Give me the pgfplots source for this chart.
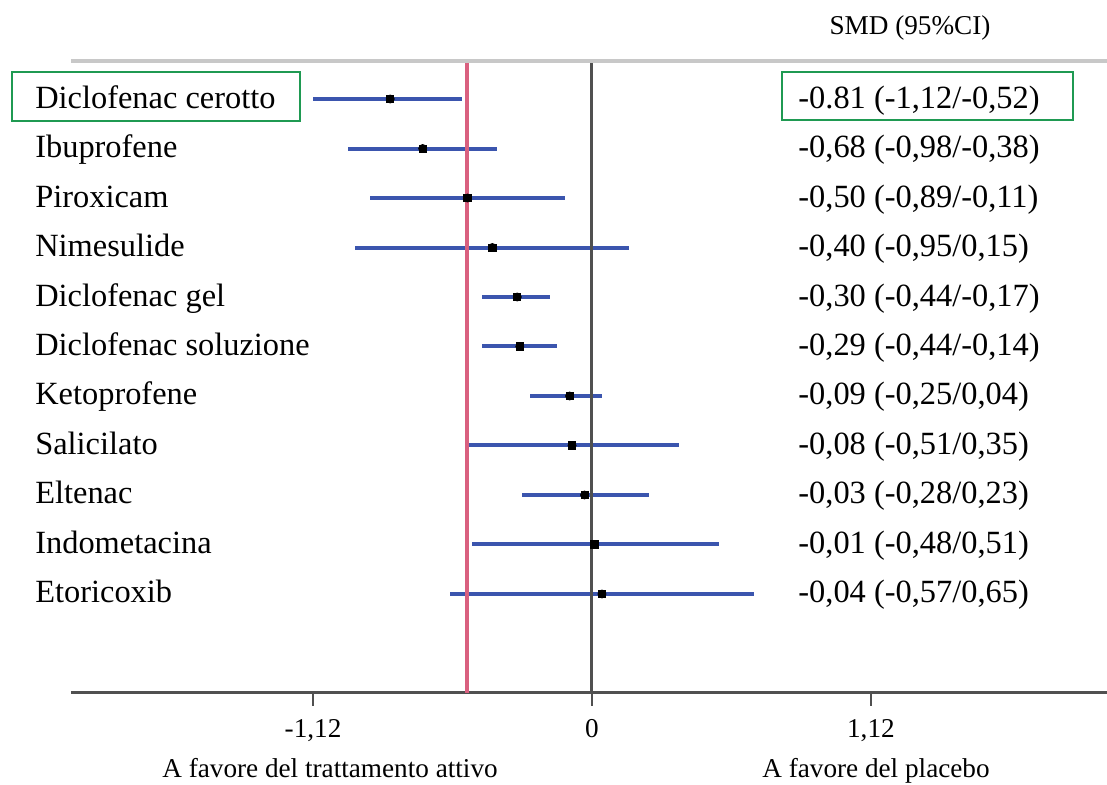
\documentclass[border=0pt]{standalone}
\usepackage{fontspec}
\setmainfont{Liberation Serif}
\usepackage{pgfplots}
\pgfplotsset{compat=1.18}
\usepackage{pgfplotstable}
\definecolor{ciblue}{HTML}{3B55AE}
\definecolor{refred}{HTML}{D9607F}
\definecolor{boxgreen}{HTML}{1F9A52}
\definecolor{axgray}{HTML}{505050}
\definecolor{topgray}{HTML}{C8C8C8}
\newcommand{\rowfont}{\fontsize{16.2pt}{19pt}\selectfont}
\newcommand{\tickfont}{\fontsize{13.6pt}{16pt}\selectfont}
\pgfplotstableread{
row est lo hi
1 -0.81 -1.12 -0.52
2 -0.68 -0.98 -0.38
3 -0.50 -0.89 -0.11
4 -0.40 -0.95 0.15
5 -0.30 -0.44 -0.17
6 -0.29 -0.44 -0.14
7 -0.09 -0.25 0.04
8 -0.08 -0.51 0.35
9 -0.03 -0.28 0.23
10 0.01 -0.48 0.51
11 0.04 -0.57 0.65
}\smd
\begin{document}
\begin{tikzpicture}
\useasboundingbox (0,0) rectangle (553.5pt,392.5pt);
\begin{axis}[
  at={(35.5pt,46pt)}, anchor=south west,
  scale only axis, width=518pt, height=316pt,
  xmin=-2.092, xmax=2.068, ymin=-13.0, ymax=-0.232,
  axis y line=none, axis x line*=bottom,
  x axis line style={axgray, line width=1.5pt},
  xtick={-1.12,0,1.12}, xticklabels={{-1,12},{0},{1,12}},
  tick align=outside, major tick length=6.5pt,
  major tick style={axgray, line width=1.2pt},
  xticklabel style={font=\tickfont, anchor=base, yshift=-16pt},
  clip=false,
]
\addplot[only marks, mark=none, forget plot,
  error bars/.cd, x dir=both, x explicit,
  error bar style={ciblue, line width=2pt}, error mark=none]
  table[x=est, y expr=-\thisrow{row},
        x error plus expr=\thisrow{hi}-\thisrow{est},
        x error minus expr=\thisrow{est}-\thisrow{lo}] {\smd};
\addplot[refred, line width=2pt, forget plot] coordinates {(-0.5,-13.0) (-0.5,-0.232)};
\addplot[axgray, line width=1.5pt, forget plot] coordinates {(0,-13.0) (0,-0.232)};
\addplot[topgray, line width=2pt, forget plot] coordinates {(-2.092,-0.232) (2.068,-0.232)};
\addplot[only marks, mark=square*, mark size=1.8pt, black]
  table[x=est, y expr=-\thisrow{row}] {\smd};
\begin{scope}[every node/.style={font=\rowfont, anchor=base west, yshift=-4.5pt, inner sep=0pt}]
\node at (axis cs:-2.2369,-1) {Diclofenac cerotto};
\node at (axis cs:-2.2369,-2) {Ibuprofene};
\node at (axis cs:-2.2369,-3) {Piroxicam};
\node at (axis cs:-2.2369,-4) {Nimesulide};
\node at (axis cs:-2.2369,-5) {Diclofenac gel};
\node at (axis cs:-2.2369,-6) {Diclofenac soluzione};
\node at (axis cs:-2.2369,-7) {Ketoprofene};
\node at (axis cs:-2.2369,-8) {Salicilato};
\node at (axis cs:-2.2369,-9) {Eltenac};
\node at (axis cs:-2.2369,-10) {Indometacina};
\node at (axis cs:-2.2369,-11) {Etoricoxib};
\node at (axis cs:0.8273,-1) {-0.81 (-1,12/-0,52)};
\node at (axis cs:0.8273,-2) {-0,68 (-0,98/-0,38)};
\node at (axis cs:0.8273,-3) {-0,50 (-0,89/-0,11)};
\node at (axis cs:0.8273,-4) {-0,40 (-0,95/0,15)};
\node at (axis cs:0.8273,-5) {-0,30 (-0,44/-0,17)};
\node at (axis cs:0.8273,-6) {-0,29 (-0,44/-0,14)};
\node at (axis cs:0.8273,-7) {-0,09 (-0,25/0,04)};
\node at (axis cs:0.8273,-8) {-0,08 (-0,51/0,35)};
\node at (axis cs:0.8273,-9) {-0,03 (-0,28/0,23)};
\node at (axis cs:0.8273,-10) {-0,01 (-0,48/0,51)};
\node at (axis cs:0.8273,-11) {-0,04 (-0,57/0,65)};
\end{scope}
\end{axis}
\node[font=\tickfont, anchor=base, inner sep=0pt] at (455pt,375pt) {SMD (95\%CI)};
\node[font=\tickfont, anchor=base, inner sep=0pt] at (165pt,3.5pt) {A favore del trattamento attivo};
\node[font=\tickfont, anchor=base, inner sep=0pt] at (438pt,3.5pt) {A favore del placebo};
\draw[boxgreen, line width=1pt] (6pt,332pt) rectangle (150pt,356.5pt);
\draw[boxgreen, line width=1pt] (391pt,332.5pt) rectangle (536.5pt,356.5pt);
\end{tikzpicture}
\end{document}
